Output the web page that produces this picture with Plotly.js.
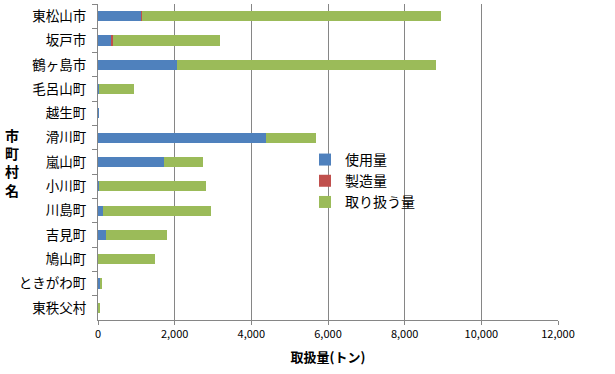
<!DOCTYPE html>
<html><head><meta charset="utf-8">
<script src="https://cdn.plot.ly/plotly-3.0.1.min.js"></script>
<style>html,body{margin:0;padding:0;background:#fff}#c{width:615px;height:374px}</style>
</head><body><div id="c"></div>
<script>
const categories = ["東松山市","坂戸市","鶴ヶ島市","毛呂山町","越生町","滑川町","嵐山町","小川町","川島町","吉見町","鳩山町","ときがわ町","東秩父村"];
const useAmount = [1120, 350, 2070, 35, 35, 4370, 1730, 35, 140, 220, 5, 50, 5];
const makeAmount = [40, 30, 0, 0, 0, 0, 0, 0, 0, 0, 0, 0, 0];
const handleAmount = [7800, 2790, 6740, 905, 0, 1305, 1020, 2770, 2820, 1590, 1490, 50, 40];
const seriesNames = ["使用量","製造量","取り扱う量"];
const colors = ["#4F81BD","#C0504D","#9BBB59"];
const xTicks = [0,2000,4000,6000,8000,10000,12000];
const xTickText = ["0","2,000","4,000","6,000","8,000","10,000","12,000"];

const font = "'Noto Sans CJK JP', 'Liberation Sans', sans-serif";
const vals = [useAmount, makeAmount, handleAmount];
const data = vals.map((v,i)=>({
  type:'bar', orientation:'h', name:seriesNames[i], x:v, y:categories,
  marker:{color:colors[i], line:{width:0}}
}));
const layout = {
  width:615, height:374,
  margin:{l:98, r:57, t:4, b:54},
  barmode:'stack', bargap:0.58,
  paper_bgcolor:'#fff', plot_bgcolor:'#fff',
  font:{family:font, size:13, color:'#000'},
  showlegend:true,
  legend:{x:0.45, y:0.44, xanchor:'left', yanchor:'middle', traceorder:'normal',
    font:{family:font, size:14, color:'#000'}, itemwidth:30, tracegroupgap:0, bgcolor:'rgba(0,0,0,0)'},
  xaxis:{range:[0,12000], tickvals:xTicks, ticktext:xTickText, showgrid:true, gridcolor:'#868686', gridwidth:1,
    zeroline:false, showline:true, linecolor:'#868686', ticks:'outside', ticklen:4, tickcolor:'#868686',
    tickfont:{family:font, size:11, color:'#000'},
    title:{text:'<b>取扱量(トン)</b>', font:{family:font, size:13, color:'#000'}, standoff:12}},
  yaxis:{type:'category', autorange:'reversed', showline:true, linecolor:'#868686', ticks:'outside', ticklen:5,
    tickcolor:'#868686', tickson:'boundaries', showgrid:false, zeroline:false, ticklabelstandoff:8,
    tickfont:{family:font, size:13.5, color:'#000'}},
  annotations:[{text:'<b>市<br>町<br>村<br>名</b>', xref:'paper', yref:'paper', x:-0.187, y:0.5,
    xanchor:'center', yanchor:'middle', showarrow:false, font:{family:font, size:14, color:'#000'}}]
};
Plotly.newPlot('c', data, layout, {staticPlot:true});
</script></body></html>
